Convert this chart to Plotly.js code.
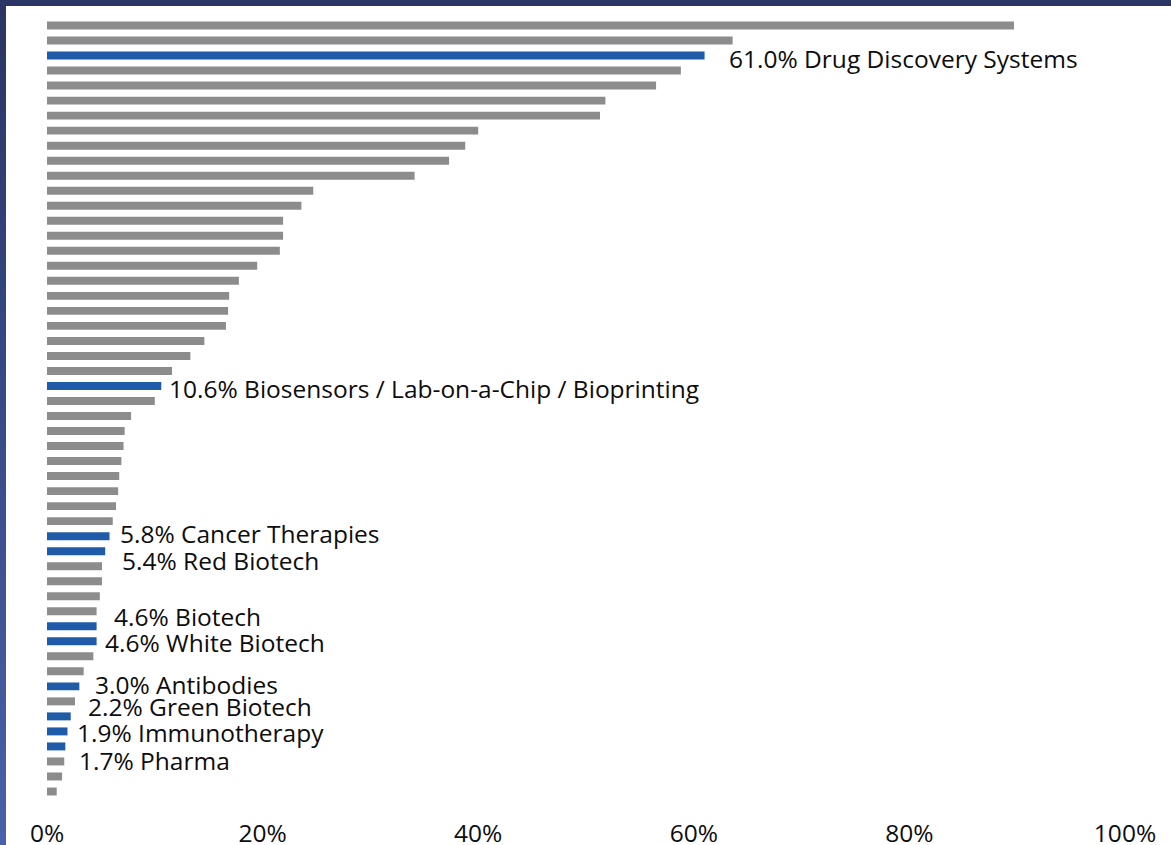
<!DOCTYPE html>
<html>
<head>
<meta charset="utf-8">
<script src="https://cdn.plot.ly/plotly-3.0.1.min.js"></script>
<style>
  html, body { margin: 0; padding: 0; background: #ffffff; }
  #wrap { position: relative; width: 1171px; height: 845px; overflow: hidden; }
  #chart { position: absolute; left: 0; top: 0; width: 1171px; height: 845px; }
  #frameTop { position: absolute; left: 0; top: 0; width: 1171px; height: 6px; background: #2a3563; }
  #frameLeft { position: absolute; left: 0; top: 0; width: 6px; height: 845px;
               background: linear-gradient(to bottom, #2a3563 0%, #3a4a88 50%, #4b60a8 100%); }
</style>
</head>
<body>
<div id="wrap">
  <div id="chart"></div>
  <div id="frameTop"></div>
  <div id="frameLeft"></div>
</div>
<script>
// Share of mentions per topic, in percent, from the top bar down
var shares = [
  89.7, 63.6, 61.0, 58.8, 56.5, 51.8, 51.3, 40.0, 38.8, 37.3,
  34.1, 24.7, 23.6, 21.9, 21.9, 21.6, 19.5, 17.8, 16.9, 16.8,
  16.6, 14.6, 13.3, 11.6, 10.6, 10.0, 7.8, 7.2, 7.1, 6.9,
  6.7, 6.6, 6.4, 6.1, 5.8, 5.4, 5.1, 5.1, 4.9, 4.6,
  4.6, 4.6, 4.3, 3.4, 3.0, 2.6, 2.2, 1.9, 1.7, 1.6,
  1.4, 0.9
];

// Topic names for the highlighted bars (empty = unlabelled)
var topics = [
  "", "", "Drug Discovery Systems", "", "", "", "", "", "", "",
  "", "", "", "", "", "", "", "", "", "",
  "", "", "", "", "Biosensors / Lab-on-a-Chip / Bioprinting", "", "", "", "", "",
  "", "", "", "", "Cancer Therapies", "Red Biotech", "", "", "", "",
  "Biotech", "White Biotech", "", "", "Antibodies", "", "Green Biotech", "Immunotherapy", "Pharma", "",
  "", ""
];

var tickValues = [0, 20, 40, 60, 80, 100];
var tickLabels = ["0%", "20%", "40%", "60%", "80%", "100%"];

// Label nudges (pixels) so neighbouring labels do not collide
var labelNudge = {
  "Drug Discovery Systems": [22, -3],
  "Biosensors / Lab-on-a-Chip / Bioprinting": [6, -3],
  "Cancer Therapies": [8, 3],
  "Red Biotech": [15, -9],
  "Biotech": [15, 10],
  "White Biotech": [6, -1],
  "Antibodies": [14, 2],
  "Green Biotech": [15, 10],
  "Immunotherapy": [8, -1],
  "Pharma": [12, -14]
};

var GREY = "#8c8c8c";
var BLUE = "#1f5ba9";
var FONT = "Open Sans, sans-serif";
var FONT_SIZE = 24.5;

var positions = shares.map(function (_, i) { return i; });
var colors = topics.map(function (t) { return t ? BLUE : GREY; });

var annotations = [];
topics.forEach(function (t, i) {
  if (!t) return;
  var nudge = labelNudge[t] || [8, 0];
  annotations.push({
    x: shares[i], y: i, xref: "x", yref: "y",
    text: shares[i].toFixed(1) + "% " + t,
    showarrow: false, xanchor: "left", yanchor: "middle",
    xshift: nudge[0], yshift: nudge[1],
    font: { family: FONT, size: FONT_SIZE, color: "#0d0d0d" }
  });
});

var trace = {
  type: "bar",
  orientation: "h",
  x: shares,
  y: positions,
  marker: { color: colors, line: { width: 0 } },
  hoverinfo: "x"
};

var layout = {
  width: 1171, height: 845,
  margin: { l: 47, r: 46, t: 17.5, b: 45.5, pad: 0 },
  paper_bgcolor: "#ffffff",
  plot_bgcolor: "#ffffff",
  showlegend: false,
  bargap: 0.47,
  font: { family: FONT, size: FONT_SIZE, color: "#0d0d0d" },
  xaxis: {
    range: [0, 100],
    tickvals: tickValues,
    ticktext: tickLabels,
    showgrid: false, zeroline: false, showline: false,
    ticks: "outside", ticklen: 13, tickcolor: "rgba(0,0,0,0)",
    tickfont: { family: FONT, size: FONT_SIZE, color: "#0d0d0d" },
    fixedrange: true
  },
  yaxis: {
    range: [51.5, -0.5],
    showticklabels: false, showgrid: false, zeroline: false, showline: false,
    ticks: "",
    fixedrange: true
  },
  annotations: annotations
};

Plotly.newPlot("chart", [trace], layout, { displayModeBar: false, staticPlot: true });
</script>
</body>
</html>
